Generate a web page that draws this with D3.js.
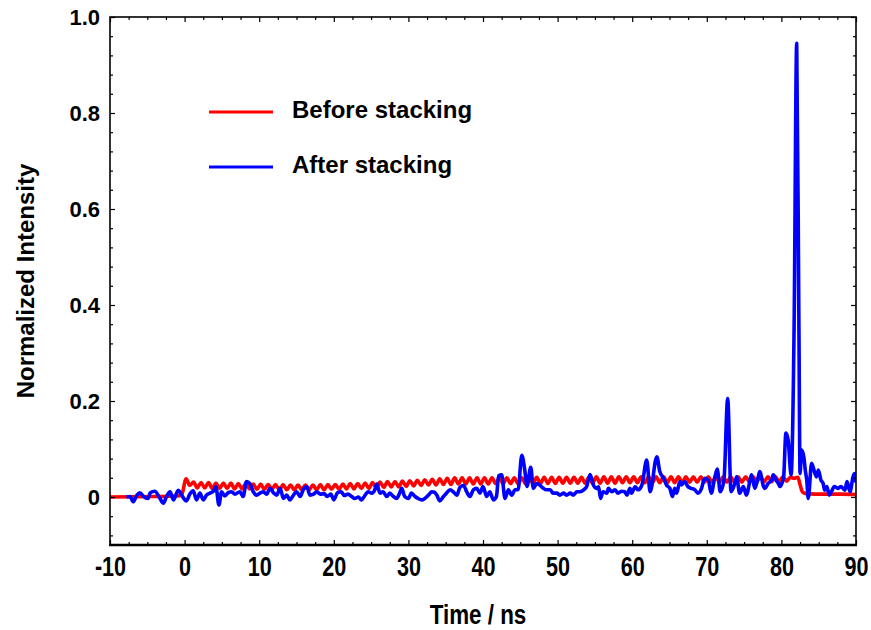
<!DOCTYPE html>
<html>
<head>
<meta charset="utf-8">
<script src="https://cdn.jsdelivr.net/npm/d3@7"></script>
<style>
  html, body { margin: 0; padding: 0; background: #fff; }
  text { font-family: "Liberation Sans", Arial, Helvetica, sans-serif; font-weight: bold; fill: #000; }
</style>
</head>
<body>
<svg id="chart" width="871" height="630"></svg>
<script>
// ---- axis ticks ----
const xTickValues = [-10, 0, 10, 20, 30, 40, 50, 60, 70, 80, 90];
const xTickLabels = ["-10", "0", "10", "20", "30", "40", "50", "60", "70", "80", "90"];
const yTickValues = [0, 0.2, 0.4, 0.6, 0.8, 1.0];
const yTickLabels = ["0", "0.2", "0.4", "0.6", "0.8", "1.0"];

// ---- "Before stacking" trace ----
// flat lead-in before the pulse
const redLeadTime  = [-10, -4, -1, -0.4];
const redLeadValue = [0.000, 0.001, 0.002, 0.004];
// ringing part, sampled every 0.5 ns starting at 0.2 ns
const redStart = 0.2;
const redStep = 0.5;
const redValue = [
  0.038, 0.024, 0.031, 0.019, 0.030, 0.019, 0.030, 0.018, 0.029, 0.018,
  0.029, 0.018, 0.029, 0.017, 0.028, 0.017, 0.028, 0.017, 0.027, 0.016,
  0.027, 0.016, 0.026, 0.016, 0.026, 0.015, 0.026, 0.015, 0.025, 0.015,
  0.025, 0.015, 0.025, 0.015, 0.025, 0.015, 0.026, 0.015, 0.026, 0.016,
  0.026, 0.016, 0.027, 0.017, 0.028, 0.017, 0.028, 0.018, 0.029, 0.018,
  0.030, 0.019, 0.031, 0.020, 0.032, 0.021, 0.032, 0.021, 0.033, 0.022,
  0.034, 0.023, 0.035, 0.024, 0.036, 0.025, 0.037, 0.025, 0.038, 0.026,
  0.039, 0.026, 0.040, 0.027, 0.040, 0.027, 0.040, 0.027, 0.040, 0.027,
  0.040, 0.027, 0.040, 0.028, 0.040, 0.028, 0.040, 0.028, 0.040, 0.028,
  0.040, 0.028, 0.041, 0.028, 0.041, 0.028, 0.041, 0.028, 0.041, 0.028,
  0.041, 0.029, 0.041, 0.029, 0.041, 0.029, 0.041, 0.029, 0.041, 0.029,
  0.042, 0.029, 0.042, 0.029, 0.042, 0.029, 0.042, 0.030, 0.042, 0.030,
  0.042, 0.030, 0.042, 0.030, 0.042, 0.030, 0.042, 0.030, 0.042, 0.030,
  0.042, 0.030, 0.042, 0.030, 0.042, 0.031, 0.042, 0.031, 0.042, 0.031,
  0.042, 0.031, 0.042, 0.031, 0.042, 0.031, 0.042, 0.031, 0.042, 0.031,
  0.042, 0.032, 0.042, 0.032, 0.042, 0.032, 0.042, 0.032, 0.042, 0.032,
  0.042, 0.033, 0.041, 0.039
];
// fall-off after the pulse
const redTailTime  = [82.2, 82.5, 82.8, 83.3, 84.5, 86, 88, 90];
const redTailValue = [0.041, 0.026, 0.011, 0.007, 0.006, 0.006, 0.006, 0.005];

// ---- "After stacking" trace ----
const blueTime = [
  -7.8, -7.3, -6.9, -6.4, -6.0, -5.5, -4.9, -4.6, -4.0, -3.3,
  -2.85, -2.4, -1.95, -1.5, -0.85, -0.4, 0.25, 0.7, 1.15, 1.6,
  2.05, 2.5, 2.95, 3.4, 3.85, 4.2, 4.6, 4.95, 5.4, 5.85,
  6.3, 6.75, 7.4, 7.85, 8.3, 8.75, 9.2, 9.65, 10.1, 10.55,
  11.0, 11.45, 11.9, 12.35, 12.8, 13.25, 13.7, 14.1, 14.6, 15.0,
  15.5, 15.9, 16.4, 16.8, 17.3, 17.7, 18.2, 18.7, 19.1, 19.6,
  20.0, 20.5, 21.0, 21.4, 21.9, 22.4, 22.8, 23.3, 23.7, 24.2,
  24.6, 25.1, 25.5, 25.75, 26.2, 26.6, 27.1, 27.5, 28.0, 28.4,
  28.9, 29.1, 29.5, 30.0, 30.4, 30.9, 31.3, 31.8, 32.2, 32.7,
  33.1, 33.5, 33.8, 34.2, 34.7, 35.1, 35.6, 36.0, 36.5, 36.9,
  37.4, 37.8, 38.25, 38.7, 39.15, 39.6, 40.0, 40.5, 40.9, 41.4,
  41.8, 42.1, 42.5, 42.95, 43.4, 43.85, 44.3, 44.7, 45.2, 45.6,
  45.9, 46.4, 46.75, 47.2, 47.6, 48.1, 48.5, 49.0, 49.4, 49.9,
  50.3, 50.8, 51.2, 51.7, 52.1, 52.6, 53.0, 53.5, 53.9, 54.35,
  54.8, 55.2, 55.5, 55.75, 56.1, 56.6, 56.8, 57.25, 57.7, 58.1,
  58.6, 59.0, 59.3, 59.7, 59.9, 60.4, 60.8, 61.3, 61.95, 62.4,
  63.3, 63.7, 64.2, 64.6, 65.05, 65.4, 65.7, 65.95, 66.4, 66.6,
  67.05, 67.5, 67.9, 68.4, 68.8, 69.3, 69.7, 70.2, 70.6, 71.05,
  71.4, 71.8, 72.3, 72.8, 73.25, 73.75, 74.0, 74.4, 74.9, 75.3,
  75.8, 76.0, 76.45, 76.9, 77.1, 77.6, 77.8, 78.2, 78.7, 78.9,
  79.3, 79.6, 79.8, 80.3, 80.6, 80.9, 81.3, 81.7, 82.05, 82.35,
  82.5, 82.7, 83.0, 83.2, 83.4, 83.6, 84.05, 84.5, 84.7, 84.95,
  85.3, 85.6, 85.8, 86.1, 86.4, 86.7, 87.1, 87.6, 88.0, 88.5,
  88.8, 89.2, 89.6, 89.8, 90.0
];
const blueValue = [
  0.000, 0.001, -0.010, 0.004, 0.009, 0.001, -0.003, 0.009, 0.012, -0.003,
  -0.013, 0.002, 0.011, -0.006, 0.014, 0.004, -0.008, 0.006, 0.013, -0.006,
  0.008, -0.006, 0.004, 0.008, 0.012, 0.021, -0.017, 0.011, 0.002, 0.009,
  0.011, 0.006, 0.011, 0.001, 0.032, 0.028, 0.011, 0.004, 0.008, 0.011,
  0.006, 0.018, 0.009, 0.004, 0.018, -0.003, 0.004, -0.006, 0.004, 0.011,
  0.001, 0.015, 0.021, 0.004, 0.006, 0.011, 0.006, 0.007, 0.001, 0.006,
  -0.006, 0.009, 0.011, 0.003, 0.006, 0.001, -0.003, 0.000, -0.006, 0.004,
  0.011, 0.008, 0.015, 0.027, 0.008, 0.011, 0.001, 0.008, 0.001, -0.003,
  0.011, 0.018, 0.001, -0.003, 0.008, 0.001, -0.003, -0.006, -0.003, 0.004,
  0.011, 0.010, 0.004, -0.008, 0.001, 0.008, 0.015, 0.011, 0.004, 0.020,
  0.024, 0.011, 0.001, 0.015, 0.018, 0.008, 0.022, 0.001, 0.011, -0.006,
  0.001, 0.044, 0.046, -0.003, 0.015, 0.004, 0.015, 0.015, 0.087, 0.056,
  0.022, 0.062, 0.018, 0.028, 0.025, 0.018, 0.015, 0.015, 0.008, 0.008,
  0.004, 0.008, 0.004, 0.008, 0.004, 0.011, 0.011, 0.015, 0.022, 0.047,
  0.025, 0.018, 0.021, -0.003, 0.011, 0.008, 0.018, 0.011, 0.015, 0.008,
  0.012, 0.011, 0.004, 0.018, 0.008, 0.021, 0.015, 0.025, 0.077, 0.011,
  0.084, 0.053, 0.039, 0.025, 0.018, 0.001, 0.018, 0.008, 0.032, 0.025,
  0.032, 0.021, 0.018, 0.015, 0.008, 0.018, 0.039, 0.035, 0.008, 0.039,
  0.058, 0.011, 0.035, 0.205, 0.011, 0.028, 0.042, 0.008, 0.022, 0.004,
  0.035, 0.046, 0.018, 0.042, 0.053, 0.022, 0.018, 0.028, 0.035, 0.046,
  0.035, 0.028, 0.022, 0.042, 0.133, 0.119, 0.046, 0.350, 0.945, 0.350,
  0.049, 0.098, 0.084, 0.056, 0.035, -0.003, 0.070, 0.049, 0.042, 0.056,
  0.035, 0.028, 0.014, 0.022, 0.004, 0.011, 0.022, 0.018, 0.022, 0.014,
  0.032, 0.011, 0.042, 0.049, 0.030
];

// ---- legend ----
const seriesNames = ["Before stacking", "After stacking"];
const seriesColors = ["#ff0000", "#0000ff"];

// ---- layout ----
const W = 871, H = 630;
const margin = { left: 110, right: 15, top: 17, bottom: 85 };
const plotW = W - margin.left - margin.right;
const plotH = H - margin.top - margin.bottom;

const svg = d3.select("#chart");

const x = d3.scaleLinear().domain([-10, 90]).range([margin.left, margin.left + plotW]);
const y = d3.scaleLinear().domain([-0.1, 1.0]).range([margin.top + plotH, margin.top]);

// assemble point lists
const redPoints = [];
redLeadTime.forEach((t, i) => redPoints.push([t, redLeadValue[i]]));
redValue.forEach((v, i) => redPoints.push([redStart + i * redStep, v]));
redTailTime.forEach((t, i) => redPoints.push([t, redTailValue[i]]));
const bluePoints = blueTime.map((t, i) => [t, blueValue[i]]);

// clip to the plotting frame
svg.append("defs").append("clipPath").attr("id", "plotClip")
  .append("rect")
  .attr("x", margin.left).attr("y", margin.top)
  .attr("width", plotW).attr("height", plotH);

const line = d3.line()
  .x(d => x(d[0]))
  .y(d => y(d[1]))
  .curve(d3.curveMonotoneX);

const traces = svg.append("g").attr("clip-path", "url(#plotClip)");
traces.append("path")
  .datum(redPoints)
  .attr("fill", "none")
  .attr("stroke", seriesColors[0])
  .attr("stroke-width", 3.6)
  .attr("stroke-linejoin", "round")
  .attr("d", line);
traces.append("path")
  .datum(bluePoints)
  .attr("fill", "none")
  .attr("stroke", seriesColors[1])
  .attr("stroke-width", 3.6)
  .attr("stroke-linejoin", "round")
  .attr("d", line);

// ---- axes: ticks point inward on all four sides ----
const xMinor = d3.range(-10, 90.001, 2.5).filter(v => Math.abs(v % 10) > 1e-6);
const yMinor = d3.range(-0.08, 1.0001, 0.04).filter(v => Math.abs(Math.round(v * 100) % 20) > 1e-6);

const major = 5, minor = 3;

function styleAxis(g) {
  g.select(".domain").remove();
  g.selectAll(".tick line").attr("stroke", "#000").attr("stroke-width", 1.2);
}

// bottom
const xLabel = d => xTickLabels[xTickValues.indexOf(d)];
svg.append("g")
  .attr("transform", `translate(0,${margin.top + plotH})`)
  .call(d3.axisBottom(x).tickValues(xTickValues).tickSize(-major).tickPadding(12).tickFormat(xLabel))
  .call(styleAxis)
  .call(g => g.selectAll(".tick text")
    .attr("font-size", 27)
    .attr("font-family", "'Liberation Sans', Arial, sans-serif")
    .attr("font-weight", "bold")
    .attr("fill", "#000")
    .attr("transform", "scale(0.8,1)"));
svg.append("g")
  .attr("transform", `translate(0,${margin.top + plotH})`)
  .call(d3.axisBottom(x).tickValues(xMinor).tickSize(-minor).tickFormat(""))
  .call(styleAxis);

// top
svg.append("g")
  .attr("transform", `translate(0,${margin.top})`)
  .call(d3.axisTop(x).tickValues(xTickValues).tickSize(-major).tickFormat(""))
  .call(styleAxis);
svg.append("g")
  .attr("transform", `translate(0,${margin.top})`)
  .call(d3.axisTop(x).tickValues(xMinor).tickSize(-minor).tickFormat(""))
  .call(styleAxis);

// left
const yLabel = d => yTickLabels[yTickValues.indexOf(d)];
svg.append("g")
  .attr("transform", `translate(${margin.left},0)`)
  .call(d3.axisLeft(y).tickValues(yTickValues).tickSize(-major).tickPadding(10).tickFormat(yLabel))
  .call(styleAxis)
  .call(g => g.selectAll(".tick text")
    .attr("font-size", 22)
    .attr("font-family", "'Liberation Sans', Arial, sans-serif")
    .attr("font-weight", "bold")
    .attr("fill", "#000"));
svg.append("g")
  .attr("transform", `translate(${margin.left},0)`)
  .call(d3.axisLeft(y).tickValues(yMinor).tickSize(-minor).tickFormat(""))
  .call(styleAxis);

// right
svg.append("g")
  .attr("transform", `translate(${margin.left + plotW},0)`)
  .call(d3.axisRight(y).tickValues(yTickValues).tickSize(-major).tickFormat(""))
  .call(styleAxis);
svg.append("g")
  .attr("transform", `translate(${margin.left + plotW},0)`)
  .call(d3.axisRight(y).tickValues(yMinor).tickSize(-minor).tickFormat(""))
  .call(styleAxis);

// frame
svg.append("rect")
  .attr("x", margin.left).attr("y", margin.top)
  .attr("width", plotW).attr("height", plotH)
  .attr("fill", "none").attr("stroke", "#000").attr("stroke-width", 1.6);
svg.append("line")
  .attr("x1", margin.left - 1).attr("x2", margin.left + plotW + 1)
  .attr("y1", margin.top + plotH).attr("y2", margin.top + plotH)
  .attr("stroke", "#000").attr("stroke-width", 2.4);

// axis titles
svg.append("g")
  .attr("transform", `translate(${margin.left + plotW / 2 - 5},${H - 6})`)
  .append("text")
  .attr("text-anchor", "middle")
  .attr("font-size", 28)
  .attr("transform", "scale(0.8,1)")
  .text("Time / ns");

svg.append("text")
  .attr("transform", `translate(34,281) rotate(-90)`)
  .attr("text-anchor", "middle")
  .attr("font-size", 24)
  .text("Normalized Intensity");

// legend
const legend = svg.append("g");
seriesNames.forEach((name, i) => {
  const ly = 112 + i * 55;
  legend.append("line")
    .attr("x1", 209).attr("x2", 273)
    .attr("y1", ly).attr("y2", ly)
    .attr("stroke", seriesColors[i]).attr("stroke-width", 3);
  legend.append("text")
    .attr("x", 292).attr("y", ly + 6)
    .attr("font-size", 24)
    .text(name);
});
</script>
</body>
</html>
